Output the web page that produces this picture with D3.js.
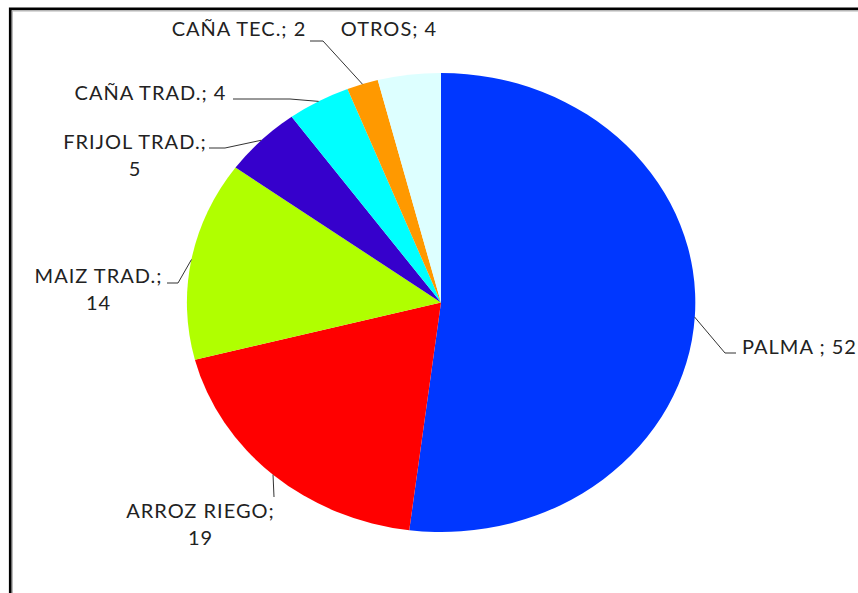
<!DOCTYPE html>
<html>
<head>
<meta charset="utf-8">
<script src="https://cdn.jsdelivr.net/npm/d3@7"></script>
<style>
  html, body { margin: 0; padding: 0; background: #fff; }
  svg { display: block; }
</style>
</head>
<body>
<svg id="chart" width="858" height="593"></svg>
<script>
// ---- data ----
const categories = ["PALMA", "ARROZ RIEGO", "MAIZ TRAD.", "FRIJOL TRAD.", "CAÑA TRAD.", "CAÑA TEC.", "OTROS"];
const values = [52, 19, 14, 5, 4, 2, 4];
const colors = ["#0037FF", "#FF0000", "#B0FF00", "#3600CC", "#00FFFF", "#FF9900", "#DDFFFF"];
const labelLines = [
  ["PALMA ; 52"],
  ["ARROZ RIEGO;", "19"],
  ["MAIZ TRAD.;", "14"],
  ["FRIJOL TRAD.;", "5"],
  ["CAÑA TRAD.; 4"],
  ["CAÑA TEC.; 2"],
  ["OTROS; 4"]
];

// ---- layout (label placement) ----
const layout = [
  { x: 742, y: 354, anchor: "start", elbow: [725, 353], end: [736, 353] },
  { x: 200.5, y: 518, anchor: "middle", elbow: [274, 497], end: null },
  { x: 98.5, y: 283, anchor: "middle", elbow: [178, 283], end: [167, 283] },
  { x: 135, y: 149, anchor: "middle", elbow: [225, 148], end: [209, 148] },
  { x: 150.5, y: 100, anchor: "middle", elbow: [290, 99], end: [233, 99] },
  { x: 239, y: 36, anchor: "middle", elbow: [323, 41], end: [310, 41] },
  { x: 389, y: 36, anchor: "middle", elbow: null, end: null }
];

const svg = d3.select("#chart");

// frame
svg.append("path").attr("d", "M10.3,593 V8.8 H858").attr("fill", "none")
  .attr("stroke", "#000").attr("stroke-width", 2.8);
svg.append("path").attr("d", "M12.3,593 V10.8 H858").attr("fill", "none")
  .attr("stroke", "#b4b4b4").attr("stroke-width", 1.2);

const cx = 441, cy = 302.5, rx = 254, ry = 229.5;

const data = categories.map((c, i) => ({ name: c, value: values[i], color: colors[i], lines: labelLines[i], lay: layout[i] }));
const pie = d3.pie().sort(null).value(d => d.value);
const arcs = pie(data);
const arc = d3.arc().innerRadius(0).outerRadius(1);

const g = svg.append("g").attr("transform", `translate(${cx},${cy}) scale(${rx},${ry})`);
g.selectAll("path.slice").data(arcs).join("path")
  .attr("class", "slice")
  .attr("d", arc)
  .attr("fill", d => d.data.color);

// leader lines
const edgePoint = d => {
  const a = (d.startAngle + d.endAngle) / 2;
  return [cx + rx * Math.sin(a), cy - ry * Math.cos(a)];
};
arcs.forEach(d => {
  const L = d.data.lay;
  if (!L.elbow) return;
  const p = edgePoint(d);
  const pts = [p, L.elbow];
  if (L.end) pts.push(L.end);
  svg.append("path")
    .attr("d", d3.line()(pts))
    .attr("fill", "none")
    .attr("stroke", "#333")
    .attr("stroke-width", 1);
});

// labels
arcs.forEach(d => {
  const L = d.data.lay;
  const t = svg.append("text")
    .attr("x", L.x).attr("y", L.y)
    .attr("text-anchor", L.anchor)
    .attr("font-family", "Lato, 'Open Sans', sans-serif")
    .attr("font-size", 20)
    .attr("letter-spacing", 1)
    .attr("fill", "#222");
  d.data.lines.forEach((ln, i) => {
    t.append("tspan").attr("x", L.x).attr("dy", i === 0 ? 0 : 27).text(ln);
  });
});
</script>
</body>
</html>
